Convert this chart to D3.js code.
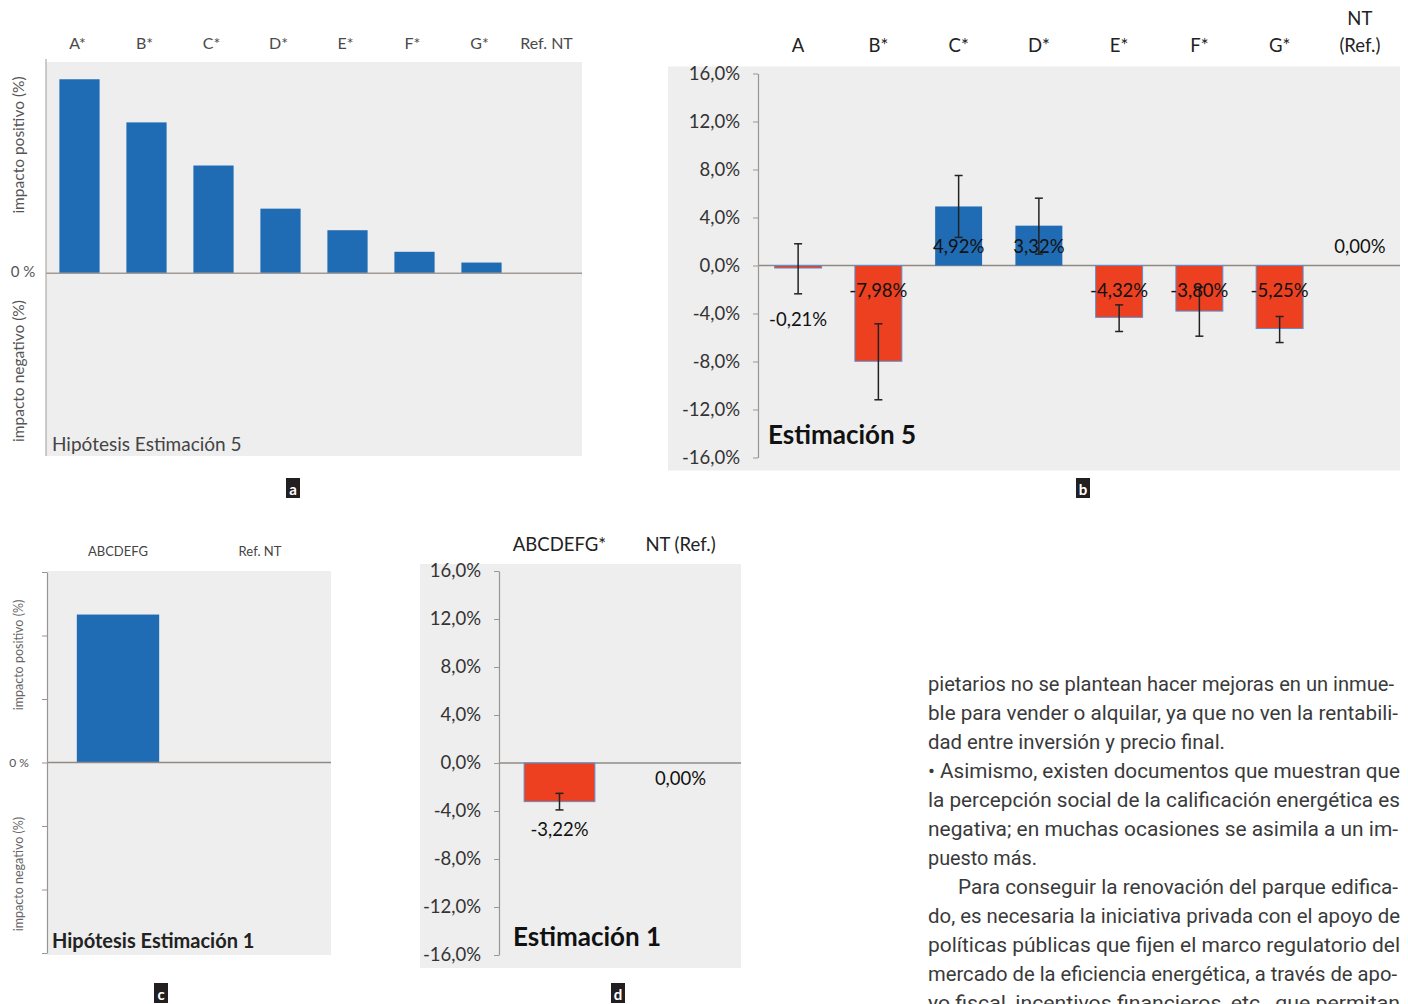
<!DOCTYPE html>
<html>
<head>
<meta charset="utf-8">
<script src="https://cdn.jsdelivr.net/npm/d3@7"></script>
<style>
  html, body { margin: 0; padding: 0; background: #fff; }
  svg { display: block; }
</style>
</head>
<body>
<svg id="chart" width="1408" height="1004"></svg>
<script>
// ---------------- DATA ----------------
// Panel a: Hipótesis Estimación 5 (relative units, no scale shown)
const catsA = ["A*", "B*", "C*", "D*", "E*", "F*", "G*", "Ref. NT"];
const valsA = [9, 7, 5, 3, 2, 1, 0.5, 0];

// Panel b: Estimación 5 (%)
const catsB = ["A", "B*", "C*", "D*", "E*", "F*", "G*", "NT (Ref.)"];
const valsB = [-0.21, -7.98, 4.92, 3.32, -4.32, -3.80, -5.25, 0.00];
const errLowB = [-2.36, -11.19, 2.34, 0.95, -5.50, -5.89, -6.42, null];
const errHighB = [1.81, -4.86, 7.50, 5.61, -3.28, -1.80, -4.25, null];
const ticksPct = [-16, -12, -8, -4, 0, 4, 8, 12, 16];

// Panel c: Hipótesis Estimación 1 (relative units)
const catsC = ["ABCDEFG", "Ref. NT"];
const valsC = [2.33, 0];
const ticksC = [-3, -2, -1, 0, 1, 2, 3];

// Panel d: Estimación 1 (%)
const catsD = ["ABCDEFG*", "NT (Ref.)"];
const valsD = [-3.22, 0.00];
const errLowD = [-3.91, null];
const errHighD = [-2.53, null];

// Body text lines
const bodyLines = [
  "pietarios no se plantean hacer mejoras en un inmue-",
  "ble para vender o alquilar, ya que no ven la rentabili-",
  "dad entre inversión y precio final.",
  "• Asimismo, existen documentos que muestran que",
  "la percepción social de la calificación energética es",
  "negativa; en muchas ocasiones se asimila a un im-",
  "puesto más.",
  "Para conseguir la renovación del parque edifica-",
  "do, es necesaria la iniciativa privada con el apoyo de",
  "políticas públicas que fijen el marco regulatorio del",
  "mercado de la eficiencia energética, a través de apo-",
  "yo fiscal, incentivos financieros, etc., que permitan"
];

// ---------------- STYLE ----------------
const BLUE = "#1f6cb4";
const RED = "#ec4020";
const BG = "#eeeeee";
const FONT = "Lato, 'Open Sans', sans-serif";

const loc = d3.formatLocale({decimal: ",", thousands: ".", grouping: [3], currency: ["", "€"], minus: "-"});
const fmtTick = v => loc.format(".1f")(v) + "%";
const fmtVal = v => loc.format(".2f")(v) + "%";

const svg = d3.select("#chart");
svg.append("rect").attr("width", 1408).attr("height", 1004).attr("fill", "#fff");

function badge(cx, cy, letter) {
  svg.append("rect").attr("x", cx - 7).attr("y", cy - 10).attr("width", 14).attr("height", 20).attr("fill", "#231f20");
  svg.append("text").attr("x", cx).attr("y", cy + 1).attr("text-anchor", "middle")
    .attr("dominant-baseline", "central").attr("fill", "#fff")
    .style("font", "bold 15px " + FONT).text(letter);
}

// ---------- Panel a ----------
(function() {
  const g = svg.append("g");
  const x = d3.scaleBand().domain(catsA).range([46, 582]).paddingInner(0.4).paddingOuter(0.2);
  const y = d3.scaleLinear().domain([-8.47, 9.8]).range([456, 62]);
  g.append("rect").attr("x", 46).attr("y", y(9.8)).attr("width", 536).attr("height", y(-8.47) - y(9.8)).attr("fill", BG);
  g.selectAll(".bar").data(valsA).join("rect")
    .attr("x", (d, i) => x(catsA[i])).attr("width", x.bandwidth())
    .attr("y", d => y(Math.max(0, d))).attr("height", d => Math.abs(y(d) - y(0)))
    .attr("fill", BLUE);
  g.append("line").attr("x1", 46).attr("x2", 582).attr("y1", y(0)).attr("y2", y(0)).attr("stroke", "#a09a96").attr("stroke-width", 1.5);
  g.append("line").attr("x1", 46).attr("x2", 46).attr("y1", 59).attr("y2", 456).attr("stroke", "#b0aaa6").attr("stroke-width", 1.2);
  g.selectAll(".hdr").data(catsA).join("text")
    .attr("x", d => x(d) + x.bandwidth() / 2 - 2).attr("y", 42)
    .attr("text-anchor", "middle").attr("dominant-baseline", "central")
    .attr("fill", "#4a4a4a").style("font", "16px " + FONT).text(d => d);
  g.append("text").attr("x", 23).attr("y", y(0) - 2).attr("text-anchor", "middle").attr("dominant-baseline", "central")
    .attr("fill", "#555").style("font", "15px " + FONT).text("0 %");
  g.append("text").attr("transform", "translate(18," + 145 + ") rotate(-90)").attr("text-anchor", "middle")
    .attr("dominant-baseline", "central").attr("fill", "#555").style("font", "15.5px " + FONT).text("impacto positivo (%)");
  g.append("text").attr("transform", "translate(18," + 371 + ") rotate(-90)").attr("text-anchor", "middle")
    .attr("dominant-baseline", "central").attr("fill", "#555").style("font", "15.5px " + FONT).text("impacto negativo (%)");
  g.append("text").attr("x", 52).attr("y", 443).attr("dominant-baseline", "central")
    .attr("fill", "#444").style("font", "19px " + FONT).text("Hipótesis Estimación 5");
  badge(293, 488, "a");
})();

// ---------- generic % panel (b and d) ----------
function pctPanel(o) {
  const g = svg.append("g");
  const x = d3.scaleBand().domain(o.cats).range([o.x0, o.x1]).paddingInner(0.415).paddingOuter(0.2075);
  const y = d3.scaleLinear().domain([-16, 16]).range([o.yb, o.yt]);
  g.append("rect").attr("x", o.bgx).attr("y", o.yt - 7).attr("width", o.x1 - o.bgx).attr("height", o.yb - o.yt + 20).attr("fill", BG);
  // zero line
  g.append("line").attr("x1", o.x0).attr("x2", o.x1).attr("y1", y(0)).attr("y2", y(0)).attr("stroke", "#8f8a86").attr("stroke-width", 1.5);
  // bars
  g.selectAll(".bar").data(o.vals).join("rect")
    .attr("x", (d, i) => x(o.cats[i])).attr("width", x.bandwidth())
    .attr("y", d => y(Math.max(0, d))).attr("height", d => Math.abs(y(d) - y(0)))
    .attr("fill", d => d >= 0 ? BLUE : RED)
    .attr("stroke", d => d >= 0 ? "none" : "#5b8fd0").attr("stroke-width", 1);
  // axis
  const ax = g.append("g").attr("transform", "translate(" + o.x0 + ",0)")
    .call(d3.axisLeft(y).tickValues(ticksPct).tickFormat(fmtTick).tickSize(5).tickSizeOuter(0).tickPadding(13));
  ax.select(".domain").attr("stroke", "#9a9592").attr("stroke-width", 1.2);
  ax.selectAll(".tick line").attr("stroke", "#9a9592");
  ax.selectAll(".tick text").attr("fill", "#333").style("font", "18.5px " + FONT);
  // error bars
  o.vals.forEach((v, i) => {
    if (o.lo[i] == null) return;
    const cx = x(o.cats[i]) + x.bandwidth() / 2;
    const y1 = y(o.hi[i]), y2 = y(o.lo[i]);
    g.append("line").attr("x1", cx).attr("x2", cx).attr("y1", y1).attr("y2", y2).attr("stroke", "#222").attr("stroke-width", 1.5);
    [y1, y2].forEach(yy => g.append("line").attr("x1", cx - 4).attr("x2", cx + 4).attr("y1", yy).attr("y2", yy).attr("stroke", "#222").attr("stroke-width", 1.5));
  });
  // data labels
  o.vals.forEach((v, i) => {
    const cx = x(o.cats[i]) + x.bandwidth() / 2;
    const ly = o.labelY(v, i, y);
    g.append("text").attr("x", cx).attr("y", ly).attr("text-anchor", "middle").attr("dominant-baseline", "central")
      .attr("fill", "#111").style("font", "18.5px " + FONT).text(fmtVal(v));
  });
  // headers
  o.cats.forEach(c => {
    const cx = x(c) + x.bandwidth() / 2;
    if (o.wrap && c.indexOf(" ") > 0) {
      const parts = c.split(" ");
      parts.forEach((p, k) => g.append("text").attr("x", cx).attr("y", o.hy - 27 * (parts.length - 1 - k))
        .attr("text-anchor", "middle").attr("dominant-baseline", "central").attr("fill", "#222")
        .style("font", "18.5px " + FONT).text(p));
    } else {
      g.append("text").attr("x", cx).attr("y", o.hy).attr("text-anchor", "middle").attr("dominant-baseline", "central")
        .attr("fill", "#222").style("font", "18.5px " + FONT).text(c);
    }
  });
  g.append("text").attr("x", o.tx).attr("y", o.ty).attr("dominant-baseline", "central")
    .attr("fill", "#111").style("font", "bold 26px " + FONT).text(o.title);
}

pctPanel({
  cats: catsB, vals: valsB, lo: errLowB, hi: errHighB,
  x0: 758, x1: 1400, yb: 457.5, yt: 73.5, bgx: 668, hy: 45, wrap: true,
  labelY: (v, i, y) => v === 0 ? y(0) - 20 : (v > 0 ? y(0) - 20 : (Math.abs(v) < 1 ? y(errLowB[i]) + 25 : y(0) + 24)),
  title: "Estimación 5", tx: 768, ty: 434
});
badge(1083, 488, "b");

pctPanel({
  cats: catsD, vals: valsD, lo: errLowD, hi: errHighD,
  x0: 499, x1: 741, yb: 955, yt: 571, bgx: 420, hy: 544, wrap: false,
  labelY: (v, i, y) => v === 0 ? y(0) + 15 : y(errLowD[i]) + 19,
  title: "Estimación 1", tx: 513, ty: 936
});
badge(618, 993, "d");

// ---------- Panel c ----------
(function() {
  const g = svg.append("g");
  const x = d3.scaleBand().domain(catsC).range([47, 331]).paddingInner(0.42).paddingOuter(0.21);
  const y = d3.scaleLinear().domain([-3, 3]).range([953, 572]);
  g.append("rect").attr("x", 47).attr("y", 571).attr("width", 284).attr("height", 384).attr("fill", BG);
  g.selectAll(".bar").data(valsC).join("rect")
    .attr("x", (d, i) => x(catsC[i])).attr("width", x.bandwidth())
    .attr("y", d => y(Math.max(0, d))).attr("height", d => Math.abs(y(d) - y(0)))
    .attr("fill", BLUE);
  g.append("line").attr("x1", 47).attr("x2", 331).attr("y1", y(0)).attr("y2", y(0)).attr("stroke", "#8f8a86").attr("stroke-width", 1.5);
  const ax = g.append("g").attr("transform", "translate(47,0)")
    .call(d3.axisLeft(y).tickValues(ticksC).tickFormat("").tickSize(5).tickSizeOuter(0));
  ax.select(".domain").attr("stroke", "#9a9592").attr("stroke-width", 1.2);
  ax.selectAll(".tick line").attr("stroke", "#9a9592");
  g.selectAll(".hdr").data(catsC).join("text")
    .attr("x", d => x(d) + x.bandwidth() / 2).attr("y", 551)
    .attr("text-anchor", "middle").attr("dominant-baseline", "central")
    .attr("fill", "#444").style("font", "13px " + FONT).text(d => d);
  g.append("text").attr("x", 19).attr("y", y(0)).attr("text-anchor", "middle").attr("dominant-baseline", "central")
    .attr("fill", "#555").style("font", "12px " + FONT).text("0 %");
  g.append("text").attr("transform", "translate(18,655) rotate(-90)").attr("text-anchor", "middle")
    .attr("dominant-baseline", "central").attr("fill", "#666").style("font", "12.5px " + FONT).text("impacto positivo (%)");
  g.append("text").attr("transform", "translate(18,874) rotate(-90)").attr("text-anchor", "middle")
    .attr("dominant-baseline", "central").attr("fill", "#666").style("font", "12.5px " + FONT).text("impacto negativo (%)");
  g.append("text").attr("x", 52).attr("y", 940).attr("dominant-baseline", "central")
    .attr("fill", "#222").style("font", "bold 20px " + FONT).text("Hipótesis Estimación 1");
  badge(161, 993, "c");
})();

// ---------- Body text ----------
(function() {
  const g = svg.append("g");
  const lh = 29, base0 = 691;
  const starts = [928, 928, 928, 928, 928, 928, 928, 958, 928, 928, 928, 928];
  const ends = [1394, 1398, 1225, 1400, 1400, 1398, 1037, 1398, 1400, 1400, 1397, 1400];
  bodyLines.forEach((t, i) => {
    g.append("text").attr("x", starts[i]).attr("y", base0 + i * lh)
      .attr("textLength", ends[i] - starts[i]).attr("lengthAdjust", "spacingAndGlyphs")
      .attr("fill", "#3a3a3a").style("font", "20px Roboto, 'Open Sans', sans-serif").text(t);
  });
})();
</script>
</body>
</html>
